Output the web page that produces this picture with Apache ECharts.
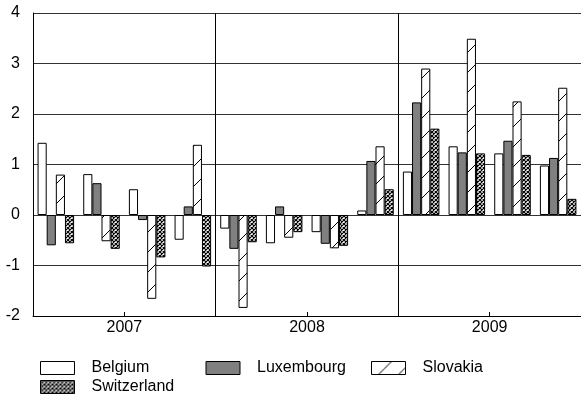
<!DOCTYPE html>
<html>
<head>
<meta charset="utf-8">
<script src="https://cdn.jsdelivr.net/npm/echarts@6/dist/echarts.min.js"></script>
<style>
html, body { margin: 0; padding: 0; background: #fff; }
#chart { width: 581px; height: 409px; }
</style>
</head>
<body>
<div id="chart"></div>
<script>
var quarters = ['2007Q1', '2007Q2', '2007Q3', '2007Q4', '2008Q1', '2008Q2', '2008Q3', '2008Q4', '2009Q1', '2009Q2', '2009Q3', '2009Q4'];
var years = ['2007', '2008', '2009'];
var yTicks = { min: -2, max: 4, step: 1 };

var belgium = [1.43, 0.81, 0.51, -0.49, -0.27, -0.56, -0.34, 0.09, 0.86, 1.36, 1.22, 0.98];
var luxembourg = [-0.60, 0.63, -0.10, 0.17, -0.67, 0.17, -0.57, 1.07, 2.23, 1.24, 1.47, 1.13];
var slovakia = [0.80, -0.52, -1.66, 1.39, -1.84, -0.45, -0.66, 1.36, 2.90, 3.49, 2.25, 2.52];
var switzerland = [-0.56, -0.67, -0.84, -1.02, -0.54, -0.34, -0.61, 0.51, 1.71, 1.22, 1.19, 0.32];

// hatch fills
function hatch() {
    var c = document.createElement('canvas');
    c.width = 20; c.height = 20;
    var g = c.getContext('2d');
    g.fillStyle = '#fff';
    g.fillRect(0, 0, 20, 20);
    g.strokeStyle = '#000';
    g.lineWidth = 1;
    g.beginPath();
    g.moveTo(-1, 21); g.lineTo(21, -1);
    g.stroke();
    return c;
}
function cross() {
    var c = document.createElement('canvas');
    c.width = 4; c.height = 4;
    var g = c.getContext('2d');
    g.fillStyle = '#fff';
    g.fillRect(0, 0, 4, 4);
    g.strokeStyle = '#000';
    g.lineWidth = 1.2;
    g.beginPath();
    g.moveTo(-1, 5); g.lineTo(5, -1);
    g.moveTo(-1, -1); g.lineTo(5, 5);
    g.stroke();
    return c;
}

var font = 'Liberation Sans, Arial, sans-serif';

function bar(name, data, fill) {
    return {
        name: name,
        type: 'bar',
        xAxisIndex: 0,
        data: data,
        barGap: '0%',
        barCategoryGap: '20%',
        itemStyle: { color: fill, borderColor: '#000', borderWidth: 1 }
    };
}

var chart = echarts.init(document.getElementById('chart'));
chart.setOption({
    animation: false,
    grid: { left: 33, right: 0, top: 13, bottom: 93 },
    legend: {
        left: 40,
        top: 360,
        padding: 0,
        width: 530,
        itemWidth: 34,
        itemHeight: 13,
        itemGap: 3,
        icon: 'rect',
        itemStyle: { borderColor: '#000', borderWidth: 1 },
        textStyle: { fontFamily: font, fontSize: 16, color: '#000', width: 111, lineHeight: 13, padding: [0, 0, 0, 12] },
        data: ['Belgium', 'Luxembourg', 'Slovakia', 'Switzerland']
    },
    xAxis: [{
        type: 'category',
        data: quarters,
        position: 'bottom',
        axisLine: { onZero: false, lineStyle: { color: '#000', width: 1 } },
        axisTick: { show: true, inside: true, length: 4, lineStyle: { color: '#000' } },
        axisLabel: { show: false },
        splitLine: { show: false }
    }, {
        type: 'category',
        data: years,
        position: 'bottom',
        axisLine: { show: false },
        axisTick: { show: false },
        axisLabel: { show: true, margin: 4, fontFamily: font, fontSize: 16, color: '#000' },
        splitLine: { show: true, lineStyle: { color: '#000', width: 1 } }
    }],
    yAxis: {
        type: 'value',
        min: yTicks.min,
        max: yTicks.max,
        interval: yTicks.step,
        axisLine: { show: true, lineStyle: { color: '#000' } },
        axisTick: { show: false },
        axisLabel: { margin: 13, fontFamily: font, fontSize: 16, color: '#000' },
        splitLine: { lineStyle: { color: '#333', width: 1 } }
    },
    series: [
        bar('Belgium', belgium, '#fff'),
        bar('Luxembourg', luxembourg, '#808080'),
        bar('Slovakia', slovakia, { image: hatch(), repeat: 'repeat' }),
        bar('Switzerland', switzerland, { image: cross(), repeat: 'repeat' })
    ]
});
</script>
</body>
</html>
